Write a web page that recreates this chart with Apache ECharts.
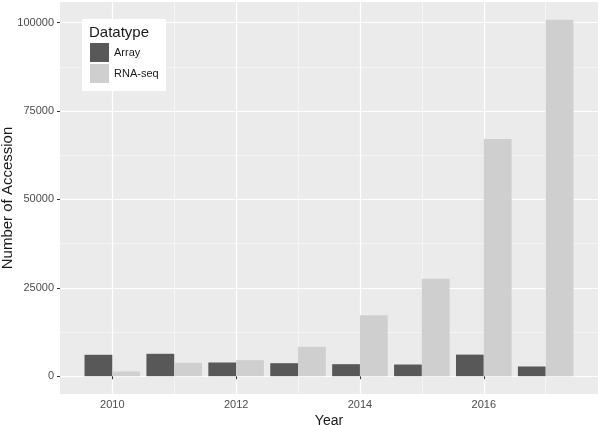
<!DOCTYPE html>
<html>
<head>
<meta charset="utf-8">
<script src="https://cdn.jsdelivr.net/npm/echarts@6/dist/echarts.min.js"></script>
<style>
html,body{margin:0;padding:0;background:#fff;}
#c{width:600px;height:425px;}
</style>
</head>
<body>
<div id="c"></div>
<script>
const years = [2010, 2011, 2012, 2013, 2014, 2015, 2016, 2017];
const arrayVals = [6050, 6330, 3870, 3670, 3390, 3300, 6100, 2740];
const rnaVals = [1330, 3780, 4520, 8300, 17200, 27570, 67100, 100800];
const seriesNames = ['Array', 'RNA-seq'];
const xMajorTicks = [2010, 2012, 2014, 2016];
const xMinorTicks = [2011, 2013, 2015, 2017];
const yMajorTicks = [0, 25000, 50000, 75000, 100000];
const yMinorTicks = [12500, 37500, 62500, 87500];

const FONT = 'Liberation Sans, Arial, Helvetica, sans-serif';
// ggplot-like 5% expansion
const xLo = years[0] - 0.45, xHi = years[years.length - 1] + 0.45;
const xPad = (xHi - xLo) * 0.05;
const yTop = Math.max(...rnaVals, ...arrayVals);
const yPad = yTop * 0.05;

const chart = echarts.init(document.getElementById('c'), null, {renderer: 'canvas'});
const tickLabelStyle = {fontSize: 11, color: '#4d4d4d', fontFamily: FONT};

const option = {
  animation: false,
  backgroundColor: '#ffffff',
  grid: {left: 60, right: 2, top: 2, bottom: 31, show: true, backgroundColor: '#ebebeb', borderWidth: 0,
         containLabel: false, outerBoundsMode: 'none'},
  title: {
    text: 'Datatype', left: 89, top: 25, padding: 0,
    textStyle: {fontSize: 15, fontWeight: 'normal', color: '#1a1a1a', fontFamily: FONT}
  },
  graphic: [{
    type: 'rect', left: 82, top: 19, z: 5,
    shape: {width: 84, height: 72},
    style: {fill: '#ffffff'}
  }],
  legend: {
    data: seriesNames, orient: 'vertical', left: 90, top: 43, z: 10,
    itemWidth: 19, itemHeight: 19, itemGap: 2, padding: 0, icon: 'rect',
    textStyle: {fontSize: 11, color: '#1a1a1a', fontFamily: FONT}
  },
  xAxis: [{
    type: 'value', min: xLo - xPad, max: xHi + xPad,
    name: 'Year', nameLocation: 'middle', nameGap: 20, nameMoveOverlap: false,
    nameTextStyle: {fontSize: 14, color: '#1a1a1a', fontFamily: FONT},
    axisLine: {show: false},
    axisTick: {show: true, length: 3, customValues: xMajorTicks, lineStyle: {color: '#333333', width: 1}},
    axisLabel: Object.assign({customValues: xMajorTicks, margin: 5, formatter: v => String(v)}, tickLabelStyle),
    splitLine: {show: true, lineStyle: {color: '#ffffff', width: 1.2}}
  }, {
    type: 'value', min: xLo - xPad, max: xHi + xPad, position: 'bottom',
    axisLine: {show: false},
    axisTick: {show: false, customValues: xMinorTicks},
    axisLabel: {show: false, customValues: xMinorTicks},
    splitLine: {show: true, lineStyle: {color: '#f7f7f7', width: 0.8}}
  }],
  yAxis: [{
    type: 'value', min: -yPad, max: yTop + yPad,
    name: 'Number of Accession', nameLocation: 'middle', nameGap: 45, nameRotate: 90, nameMoveOverlap: false,
    nameTextStyle: {fontSize: 15, color: '#1a1a1a', fontFamily: FONT},
    axisLine: {show: false},
    axisTick: {show: true, length: 3, customValues: yMajorTicks, lineStyle: {color: '#333333', width: 1}},
    axisLabel: Object.assign({customValues: yMajorTicks, margin: 6, formatter: v => String(v)}, tickLabelStyle),
    splitLine: {show: true, lineStyle: {color: '#ffffff', width: 1.2}}
  }, {
    type: 'value', min: -yPad, max: yTop + yPad, position: 'left',
    axisLine: {show: false},
    axisTick: {show: false, customValues: yMinorTicks},
    axisLabel: {show: false, customValues: yMinorTicks},
    splitLine: {show: true, lineStyle: {color: '#f7f7f7', width: 0.8}}
  }],
  series: [{
    name: seriesNames[0], type: 'bar', xAxisIndex: 0, yAxisIndex: 0,
    data: years.map((y, i) => [y, arrayVals[i]]),
    barWidth: 27.8, barGap: '0%',
    itemStyle: {color: '#585858'}
  }, {
    name: seriesNames[1], type: 'bar', xAxisIndex: 0, yAxisIndex: 0,
    data: years.map((y, i) => [y, rnaVals[i]]),
    barWidth: 27.8, barGap: '0%',
    itemStyle: {color: '#cfcfd0'}
  }]
};
chart.setOption(option);
</script>
</body>
</html>
